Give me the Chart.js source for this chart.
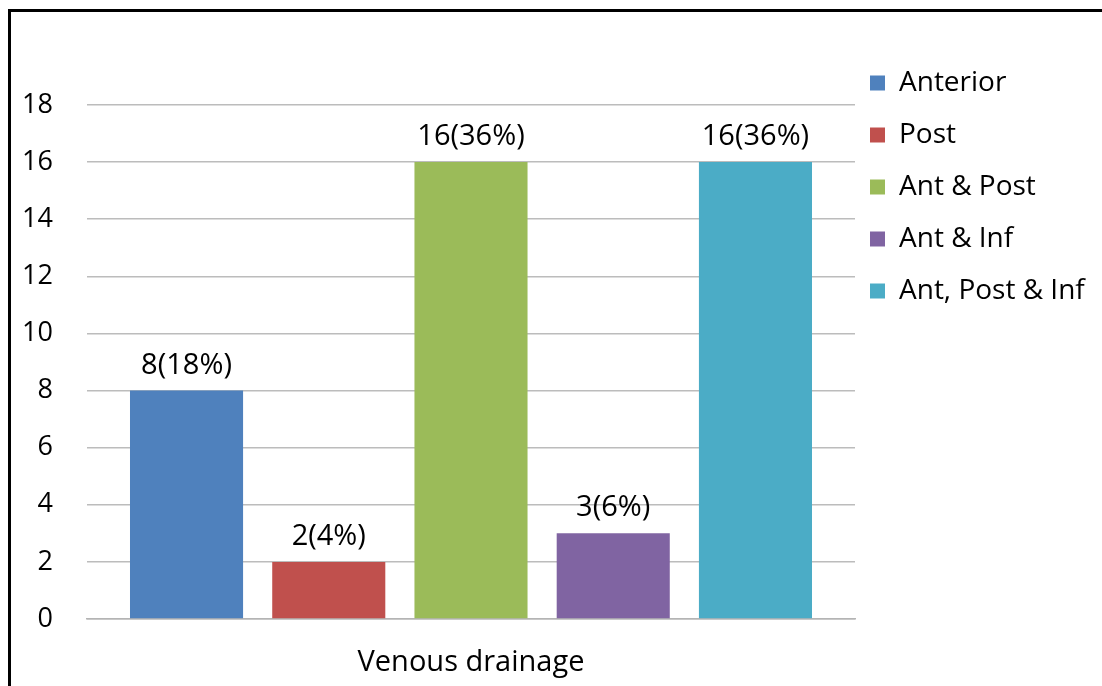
<!DOCTYPE html>
<html>
<head>
<meta charset="utf-8">
<title>Venous drainage</title>
<script src="https://cdn.jsdelivr.net/npm/chart.js@4/dist/chart.umd.min.js"></script>
<style>
    html, body { margin: 0; padding: 0; background: #fff; overflow: hidden; }
    #wrap { position: absolute; left: 0; top: 0; width: 1102px; height: 686px; }
    #frame {
        position: absolute; left: 8px; top: 9px;
        width: 1400px; height: 1000px;
        border: 3px solid #000; pointer-events: none;
    }
</style>
</head>
<body>
<div id="wrap"><canvas id="drainageChart"></canvas></div>
<div id="frame"></div>
<script>
// data
const categories = ['Venous drainage'];
const seriesNames = ['Anterior', 'Post', 'Ant & Post', 'Ant & Inf', 'Ant, Post & Inf'];
const counts = [8, 2, 16, 3, 16];
const percents = [18, 4, 36, 6, 36];
const yMax = 18;
const yStep = 2;

const seriesColors = ['#4f81bd', '#c0504d', '#9bbb59', '#8064a2', '#4bacc6'];
const FONT = "'Open Sans', sans-serif";

// "8(18%)" style labels above each bar
const barLabels = {
    id: 'barLabels',
    afterDatasetsDraw(chart) {
        const ctx = chart.ctx;
        ctx.save();
        ctx.font = '29px ' + FONT;
        ctx.fillStyle = '#000';
        ctx.textAlign = 'center';
        ctx.textBaseline = 'alphabetic';
        chart.data.datasets.forEach((ds, i) => {
            const bar = chart.getDatasetMeta(i).data[0];
            ctx.fillText(counts[i] + '(' + percents[i] + '%)', bar.x, bar.y - 17);
        });
        ctx.restore();
    }
};

// pull the legend a bit closer to the plot
const legendNudge = {
    id: 'legendNudge',
    afterLayout(chart) {
        chart.legend.left -= 9;
    }
};

Chart.defaults.font.family = FONT;
Chart.defaults.color = '#000';

const ctx = document.getElementById('drainageChart').getContext('2d');
new Chart(ctx, {
    type: 'bar',
    data: {
        labels: categories,
        datasets: seriesNames.map((name, i) => ({
            label: name,
            data: [counts[i]],
            backgroundColor: seriesColors[i],
            borderWidth: 0,
            barPercentage: 0.795,
            categoryPercentage: 0.926
        }))
    },
    options: {
        responsive: true,
        maintainAspectRatio: false,
        animation: false,
        layout: {
            padding: { top: 45, left: 0, right: 0, bottom: 0 }
        },
        plugins: {
            title: {
                display: true,
                text: ' ',
                font: { size: 10 },
                padding: { top: 48, bottom: 0 }
            },
            legend: {
                display: true,
                position: 'right',
                align: 'start',
                maxWidth: 247,
                labels: {
                    boxWidth: 15,
                    boxHeight: 15,
                    padding: 24,
                    color: '#000',
                    font: { size: 28 }
                }
            },
            tooltip: { enabled: false }
        },
        scales: {
            x: {
                grid: { display: false, drawTicks: false },
                border: { color: '#b4b4b4', width: 1.5 },
                ticks: {
                    padding: 26,
                    font: { size: 29 }
                },
                afterFit(scale) { scale.height = 67; }
            },
            y: {
                min: 0,
                max: yMax,
                grid: { color: '#bcbcbc', lineWidth: 1.5, drawTicks: false },
                border: { display: false },
                ticks: {
                    stepSize: yStep,
                    padding: 34,
                    font: { size: 27 }
                },
                afterFit(scale) { scale.width = 87; }
            }
        }
    },
    plugins: [barLabels, legendNudge]
});
</script>
</body>
</html>
